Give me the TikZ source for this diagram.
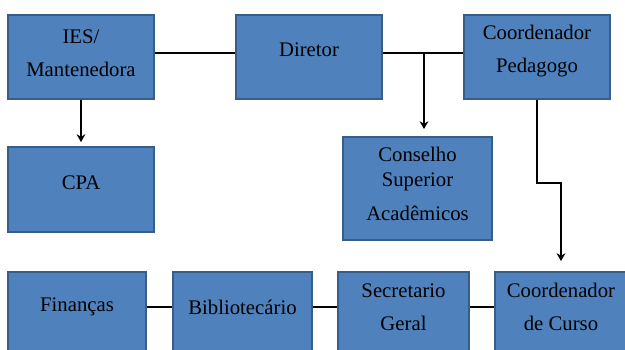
\documentclass[tikz,border=0pt]{standalone}
\usepackage{fontspec}
\setmainfont{Liberation Serif}
\usetikzlibrary{arrows.meta}

\begin{document}
\begin{tikzpicture}[x=0.02cm,y=-0.02cm,font=\fontsize{11.8}{19}\selectfont,
  caixa/.style={draw=azulesc,fill=azul,line width=1pt,inner sep=0pt},
  texto/.style={align=center,inner sep=0pt},
  liga/.style={line width=1.3pt},
  seta/.style={line width=1.3pt,-{Stealth[length=4.5pt,width=5pt]}}]
\definecolor{azul}{RGB}{79,129,189}
\definecolor{azulesc}{RGB}{56,93,138}
\useasboundingbox[fill=white] (0,0) rectangle (625,349);
\clip (0,0) rectangle (625,349);
% caixas: nome / centro / largura / altura / texto (a de baixo sai da margem)
\foreach \nome/\x/\y/\w/\h/\tx/\ty/\rot in {
    ies/81/57/146/84/81/53/{IES/\\Mantenedora},
    dir/309/57/146/84/309/50/Diretor,
    cp/537/57/146/84/537/51/{Coordenador\\Pedagogo},
    cpa/81/189.5/146/85/81/183/CPA,
    cons/417.5/188.5/149/103/417.5/184/{Conselho\\[-4.8pt]Superior\\Acadêmicos},
    fin/77/322/138/100/77/307/Finanças,
    bib/242.5/322/139/100/242.5/307/Bibliotecário,
    sec/403.5/322/131/100/403.5/307/{Secretario\\Geral},
    ccu/567.5/322/145/100/561/307/{Coordenador\\de Curso}} {
  \node[caixa,minimum width=\w*0.02cm,minimum height=\h*0.02cm] (\nome) at (\x,\y) {};
  \node[texto] (\nome-t) at (\tx,\ty) {\rot};
}
\draw[liga] (ies.east |- ies-t) -- (dir.west |- ies-t);
\draw[liga] (dir.east |- ies-t) -- (cp.west |- ies-t);
\coordinate (ramo) at (424,53);
\draw[seta,shorten >=0.14cm] (ramo) -- (ramo |- cons.north);
\draw[seta,shorten >=0.08cm] (ies.south) -- (cpa.north);
\draw[seta,shorten >=0.2cm] (cp.south) -- ++(0,83) -| (ccu.north -| ccu-t);
\draw[liga] (fin.east |- fin-t) -- (bib.west |- fin-t);
\draw[liga] (bib.east |- fin-t) -- (sec.west |- fin-t);
\draw[liga] (sec.east |- fin-t) -- (ccu.west |- fin-t);
\end{tikzpicture}
\end{document}
